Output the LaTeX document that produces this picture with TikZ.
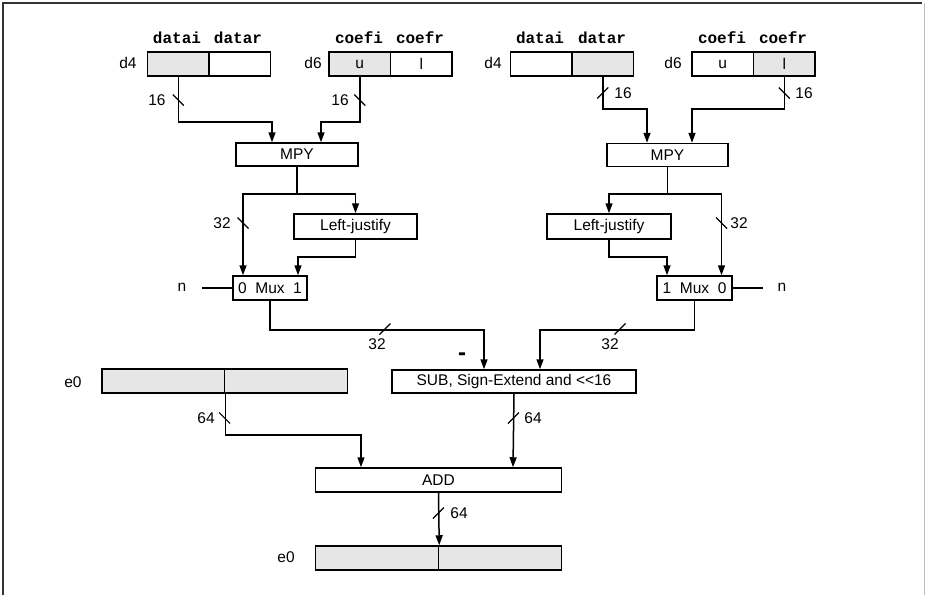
\documentclass[tikz,border=0pt]{standalone}
\usepackage{fontspec}
\setmainfont{Liberation Sans}
\newfontfamily\monof{Liberation Mono}
\usetikzlibrary{arrows.meta}
\definecolor{regfill}{RGB}{230,230,230}
\tikzset{
  every node/.style={font=\fontsize{15.5}{18}\selectfont},
  blk/.style={draw, line width=1.5pt, minimum height=24pt, inner sep=0pt, anchor=center},
  half/.style={blk, minimum width=61.5pt},
  gray half/.style={half, fill=regfill},
  monolab/.style={font=\monof\bfseries\fontsize{16}{18}\selectfont},
  wire/.style={line width=1.5pt},
  arr/.style={wire, -{Triangle[length=10pt,width=7pt]}},
  tick/.style={line width=1.1pt}
}
\newcommand{\tickb}[2]{\draw[tick] (#1-5.5,#2-5.5) -- (#1+5.5,#2+5.5);}
\newcommand{\tickf}[2]{\draw[tick] (#1-5.5,#2+5.5) -- (#1+5.5,#2-5.5);}
\begin{document}
\begin{tikzpicture}[x=1pt,y=-1pt]
\useasboundingbox (0,0) rectangle (926,595);
% frame
\draw[line width=1.6pt, black!80] (3,595) -- (3,3) -- (922,3);
\draw[line width=1.2pt, black!25] (924.5,3) -- (924.5,595);

% --- registers top ---
\node[monolab] (t1) at (177,38) {datai};
\node[monolab] (t2) at (238,38) {datar};
\node[monolab] (t3) at (359,38) {coefi};
\node[monolab] (t4) at (420,38) {coefr};
\node[monolab] (t5) at (540,38) {datai};
\node[monolab] (t6) at (602,38) {datar};
\node[monolab] (t7) at (722,38) {coefi};
\node[monolab] (t8) at (783,38) {coefr};

\node (l1) at (128,63) {d4};
\node (l2) at (313,63) {d6};
\node (l3) at (493,63) {d4};
\node (l4) at (673,63) {d6};

\node[gray half] (r1a) at (178.25,64) {};
\node[half]      (r1b) at (239.75,64) {};
\node[gray half] (r2a) at (359.75,64) {u};
\node[half]      (r2b) at (421.25,64) {l};
\node[half]      (r3a) at (541.25,64) {};
\node[gray half] (r3b) at (602.75,64) {};
\node[half]      (r4a) at (722.75,64) {u};
\node[gray half] (r4b) at (784.25,64) {l};

% --- blocks ---
\node[blk, minimum width=122pt, minimum height=23pt] (mpyL) at (297,154.5) {MPY};
\node[blk, minimum width=121pt, minimum height=23pt] (mpyR) at (667.5,155) {MPY};
\node[blk, minimum width=123pt, minimum height=25pt] (ljL) at (355.5,226.5) {Left-justify};
\node[blk, minimum width=124pt, minimum height=25pt] (ljR) at (609,226.5) {Left-justify};
\node[blk, minimum width=74pt] (muxL) at (270,288) {0\ \ Mux\ \ 1};
\node[blk, minimum width=75pt] (muxR) at (694.5,288) {1\ \ Mux\ \ 0};
\node[blk, minimum width=244pt, minimum height=23pt] (sub) at (514,381.5) {SUB, Sign-Extend and <{}<16};
\node[blk, minimum width=246pt] (add) at (438.5,480) {ADD};

\node (le1) at (73,382) {e0};
\node[gray half, minimum width=122.75pt] (e1a) at (163.4,381) {};
\node[gray half, minimum width=122.75pt] (e1b) at (286.1,381) {};
\node (le2) at (286,557.5) {e0};
\node[gray half, minimum width=122.75pt] (e2a) at (377.1,558) {};
\node[gray half, minimum width=122.75pt] (e2b) at (499.9,558) {};

\node (nL) at (182,287) {n};
\node (nR) at (782,287) {n};
\node[font=\bfseries\fontsize{24}{24}\selectfont] (minus) at (462,357) {-};

% --- connectors ---
\draw[arr] (r1a.south) -- ++(0,45) -| ([xshift=-25pt]mpyL.north);
\draw[arr] (r2a.south) -- ++(0,45) -| ([xshift=24pt]mpyL.north);
\draw[arr] (r3b.south) -- ++(0,32) -| ([xshift=-20.5pt]mpyR.north);
\draw[arr] (r4b.south) -- ++(0,32) -| ([xshift=24.5pt]mpyR.north);

\draw[wire] (mpyL.south) -- ++(0,27) coordinate (jL);
\draw[arr] (jL) -| ([xshift=-27pt]muxL.north);
\draw[arr] (jL) -| (ljL.north);
\draw[arr] (ljL.south) -- ++(0,17) -| ([xshift=28pt]muxL.north);

\draw[wire] (mpyR.south) -- ++(0,26.5) coordinate (jR);
\draw[arr] (jR) -| (ljR.north);
\draw[arr] (jR) -| ([xshift=27pt]muxR.north);
\draw[arr] (ljR.south) -- ++(0,17) -| ([xshift=-27.5pt]muxR.north);

\draw[wire] ([xshift=-30pt]muxL.west) -- (muxL.west);
\draw[wire] (muxR.east) -- ([xshift=30pt]muxR.east);

\draw[arr] (muxL.south) -- ++(0,29) -| ([xshift=-30pt]sub.north);
\draw[arr] (muxR.south) -- ++(0,29) -| ([xshift=26pt]sub.north);

\draw[arr] (e1a.south east) -- ++(0,41) -| ([xshift=-77.5pt]add.north);
\draw[arr] (sub.south) -- ([xshift=-1pt]sub.south |- add.north);
\draw[arr] (add.south) -- (e2a.north east);

% --- bus width ticks and labels ---
\tickb{178.25}{100} \node (w1) at (157,100) {16};
\tickb{359.75}{100} \node (w2) at (340,100) {16};
\tickf{602.75}{93}  \node (w3) at (623,93) {16};
\tickb{784.25}{93}  \node (w4) at (804,93) {16};
\tickb{243}{223}    \node (w5) at (222,223) {32};
\tickb{721.5}{223}  \node (w6) at (739,223) {32};
\tickf{385}{329}    \node (w7) at (377,344) {32};
\tickf{620}{329}    \node (w8) at (610,344) {32};
\tickb{224.6}{418}  \node (w9) at (206,418) {64};
\tickf{513.5}{418}  \node (w10) at (533,418) {64};
\tickf{438.5}{513}  \node (w11) at (459,513) {64};
\end{tikzpicture}
\end{document}
